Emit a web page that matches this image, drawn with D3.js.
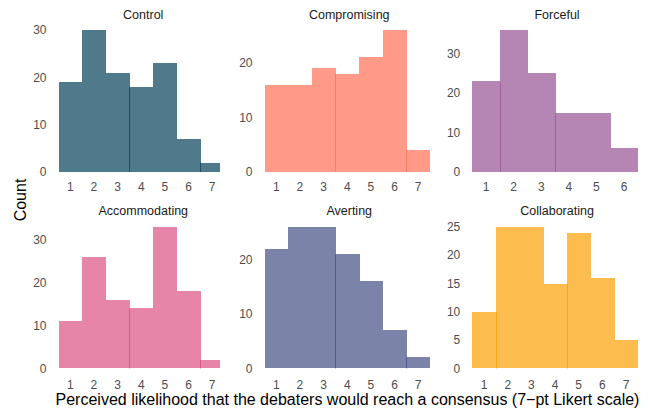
<head>
    <meta charset="utf-8">
    <script src="https://d3js.org/d3.v7.min.js"></script>
    <style>
        body { margin: 0; background: #fff; }
        text { font-family: "Liberation Sans", Arial, sans-serif; }
    </style>
</head>
<body>
<svg width="651" height="410"></svg>
<script>

    // panel names, in facet order
    var styles = ["Control", "Compromising", "Forceful", "Accommodating", "Averting", "Collaborating"]

    // counts per Likert point (1..n)
    var control       = [19, 30, 21, 18, 23, 7, 2]
    var compromising  = [16, 16, 19, 18, 21, 26, 4]
    var forceful      = [23, 36, 25, 15, 15, 6]
    var accommodating = [11, 26, 16, 14, 33, 18, 2]
    var averting      = [22, 26, 26, 21, 16, 7, 2]
    var collaborating = [10, 25, 25, 15, 24, 16, 5]

    // y tick values per panel
    var yTicks = [
        [0, 10, 20, 30],
        [0, 10, 20],
        [0, 10, 20, 30],
        [0, 10, 20, 30],
        [0, 10, 20],
        [0, 5, 10, 15, 20, 25]
    ]

    // bar edges where two bars overlap and show a darker seam (index of right bar)
    var seams = [[3, 6], [3, 6], [1, 3], [3, 6], [3, 6], [1, 4]]

    var fills = ["#4e7a8c", "#ff9a88", "#b585b4", "#e685a7", "#7b83a9", "#fdbd4e"]
    var seamColors = ["#1d4f6a", "#fa7a68", "#a262a0", "#dc5a86", "#4f5a8e", "#f8a521"]

    var counts = [control, compromising, forceful, accommodating, averting, collaborating]

    var svg = d3.select("svg")

    // facet layout
    var colLeft = [58.5, 264.5, 472.3],
        colClip = [220, 430, 640],
        panelW = 165.5,
        rowBase = [172, 368.3],
        rowTop = [30, 227]

    styles.forEach(function(name, i) {
        var col = i % 3, row = Math.floor(i / 3)
        var data = counts[i]
        var n = data.length

        var x = d3.scaleLinear()
            .domain([0.5, n + 0.5])
            .range([colLeft[col], colLeft[col] + panelW])

        var y = d3.scaleLinear()
            .domain([0, d3.max(data)])
            .range([rowBase[row], rowTop[row]])

        var g = svg.append("g")

        g.append("clipPath")
            .attr("id", "clip" + i)
            .append("rect")
            .attr("x", colLeft[col] - 2)
            .attr("y", 0)
            .attr("width", colClip[col] - colLeft[col] + 2)
            .attr("height", 410)

        var bars = g.append("g").attr("clip-path", "url(#clip" + i + ")")

        bars.selectAll("rect")
            .data(data)
            .enter().append("rect")
            .attr("x", (d, k) => x(k + 0.5))
            .attr("width", x(1.5) - x(0.5) + 0.6)
            .attr("y", d => y(d))
            .attr("height", d => y(0) - y(d))
            .attr("fill", fills[i])
            .attr("shape-rendering", "crispEdges")

        bars.selectAll("line")
            .data(seams[i])
            .enter().append("line")
            .attr("x1", k => Math.round(x(k + 0.5)) + 0.5)
            .attr("x2", k => Math.round(x(k + 0.5)) + 0.5)
            .attr("y1", k => y(Math.min(data[k - 1], data[k])))
            .attr("y2", y(0))
            .attr("stroke", seamColors[i])
            .attr("stroke-width", 1)

        // title
        g.append("text")
            .attr("x", colLeft[col] + panelW / 2 + 2)
            .attr("y", row == 0 ? 18.5 : 215)
            .attr("text-anchor", "middle")
            .attr("font-size", "12.5px")
            .attr("fill", "#1a1a1a")
            .text(name)

        // y tick labels
        g.selectAll(".ytick")
            .data(yTicks[i])
            .enter().append("text")
            .attr("class", "ytick")
            .attr("x", colLeft[col] - 12)
            .attr("y", d => y(d))
            .attr("dy", "0.35em")
            .attr("text-anchor", "end")
            .attr("font-size", "12px")
            .attr("fill", "#4d4d4d")
            .text(d => d)

        // x tick labels
        g.selectAll(".xtick")
            .data(d3.range(1, n + 1))
            .enter().append("text")
            .attr("class", "xtick")
            .attr("x", d => x(d))
            .attr("y", row == 0 ? 191 : 389)
            .attr("text-anchor", "middle")
            .attr("font-size", "12px")
            .attr("fill", "#4d4d4d")
            .text(d => d)
    })

    // axis titles
    svg.append("text")
        .attr("x", 347.5)
        .attr("y", 405)
        .attr("text-anchor", "middle")
        .attr("font-size", "16px")
        .attr("fill", "#000")
        .text("Perceived likelihood that the debaters would reach a consensus (7\u2212pt Likert scale)")

    svg.append("text")
        .attr("transform", "translate(26,200) rotate(-90)")
        .attr("text-anchor", "middle")
        .attr("font-size", "16px")
        .attr("fill", "#000")
        .text("Count")

</script>
</body>
